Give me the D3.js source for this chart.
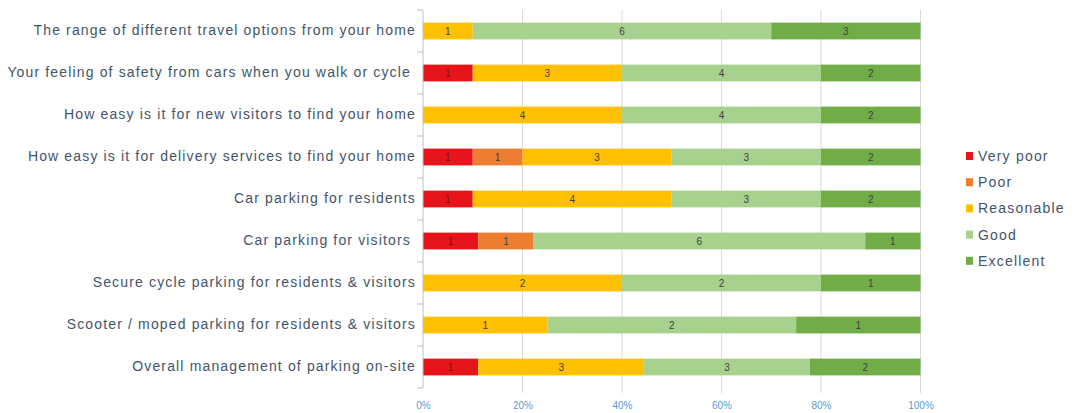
<!DOCTYPE html>
<html><head><meta charset="utf-8">
<script src="https://cdn.jsdelivr.net/npm/d3@7"></script>
<style>
html,body{margin:0;padding:0;background:#fff;}
svg{display:block;font-family:"Liberation Sans",Arial,sans-serif;}
</style></head>
<body><svg id="chart" width="1074" height="413"></svg>
<script>
const categories = [
  "The range of different travel options from your home",
  "Your feeling of safety from cars when you walk or cycle ",
  "How easy is it for new visitors to find your home",
  "How easy is it for delivery services to find your home",
  "Car parking for residents",
  "Car parking for visitors ",
  "Secure cycle parking for residents & visitors",
  "Scooter / moped parking for residents & visitors",
  "Overall management of parking on-site"
];
const seriesNames = ["Very poor", "Poor", "Reasonable", "Good", "Excellent"];
const veryPoor   = [0, 1, 0, 1, 1, 1, 0, 0, 1];
const poor       = [0, 0, 0, 1, 0, 1, 0, 0, 0];
const reasonable = [1, 3, 4, 3, 4, 0, 2, 1, 3];
const good       = [6, 4, 4, 3, 3, 6, 2, 2, 3];
const excellent  = [3, 2, 2, 2, 2, 1, 1, 1, 2];
const xTicks = [0, 0.2, 0.4, 0.6, 0.8, 1];
const colors = ["#E8141C", "#ED7D31", "#FFC000", "#A9D18E", "#70AD47"];

const seriesValues = [veryPoor, poor, reasonable, good, excellent];
const rows = categories.map((c, i) => {
  const r = {cat: c};
  seriesNames.forEach((s, k) => r[s] = seriesValues[k][i]);
  return r;
});

const svg = d3.select("#chart");
const x = d3.scaleLinear().domain([0, 1]).range([423, 920.5]);
const y = d3.scaleBand().domain(categories).range([10, 388]).paddingInner(0.6).paddingOuter(0.3);

// gridlines
svg.append("g").selectAll("line").data(xTicks.slice(1)).join("line")
  .attr("x1", d => x(d)).attr("x2", d => x(d))
  .attr("y1", 10).attr("y2", 393)
  .attr("stroke", "#d9d9d9").attr("stroke-width", 1);

// stacked normalized
const stack = d3.stack().keys(seriesNames).offset(d3.stackOffsetExpand);
const layers = stack(rows);

const g = svg.append("g");
layers.forEach((layer, k) => {
  const lg = g.append("g");
  lg.selectAll("rect").data(layer.filter(d => d.data[layer.key] > 0)).join("rect")
    .attr("x", d => x(d[0]))
    .attr("width", d => x(d[1]) - x(d[0]))
    .attr("y", d => y(d.data.cat))
    .attr("height", y.bandwidth())
    .attr("fill", colors[k]);
  lg.selectAll("text").data(layer.filter(d => d.data[layer.key] > 0)).join("text")
    .attr("x", d => (x(d[0]) + x(d[1])) / 2)
    .attr("y", d => y(d.data.cat) + y.bandwidth() / 2)
    .attr("dy", "0.35em")
    .attr("text-anchor", "middle")
    .attr("font-size", 10)
    .attr("fill", k === 0 ? "#7a1010" : "#404040")
    .text(d => d.data[layer.key]);
});

// y axis
const yAxis = d3.axisLeft(y).tickSize(0).tickPadding(7);
const ya = svg.append("g").attr("transform", "translate(423,0)").call(yAxis);
ya.select(".domain").attr("stroke", "#bfbfbf").attr("d", "M0,10V388");
ya.selectAll("text").attr("font-size", 14).attr("fill", "#44546A")
  .attr("font-family", "'Liberation Sans',Arial,sans-serif")
  .style("white-space", "pre").attr("letter-spacing", "1.15");
// category boundary ticks
const bounds = d3.range(categories.length + 1).map(i => 10 + i * (378 / categories.length));
svg.append("g").selectAll("line").data(bounds).join("line")
  .attr("x1", 417).attr("x2", 423).attr("y1", d => d).attr("y2", d => d)
  .attr("stroke", "#bfbfbf");

// x axis labels
const xAxis = d3.axisBottom(x).tickValues(xTicks).tickFormat(d3.format(".0%")).tickSize(0).tickPadding(10);
const xa = svg.append("g").attr("transform", "translate(0,392)").call(xAxis);
xa.select(".domain").remove();
xa.selectAll("text").attr("font-size", 10).attr("fill", "#5B9BD5")
  .attr("font-family", "'Liberation Sans',Arial,sans-serif");

// legend
const leg = svg.append("g");
seriesNames.forEach((s, k) => {
  const yy = 156 + k * 26.2;
  leg.append("rect").attr("x", 966).attr("y", yy - 4).attr("width", 7).attr("height", 8).attr("fill", colors[k]);
  leg.append("text").attr("x", 978).attr("y", yy).attr("dy", "0.35em")
    .attr("font-size", 14).attr("fill", "#44546A").attr("letter-spacing", "1.2").text(s);
});
</script></body></html>
